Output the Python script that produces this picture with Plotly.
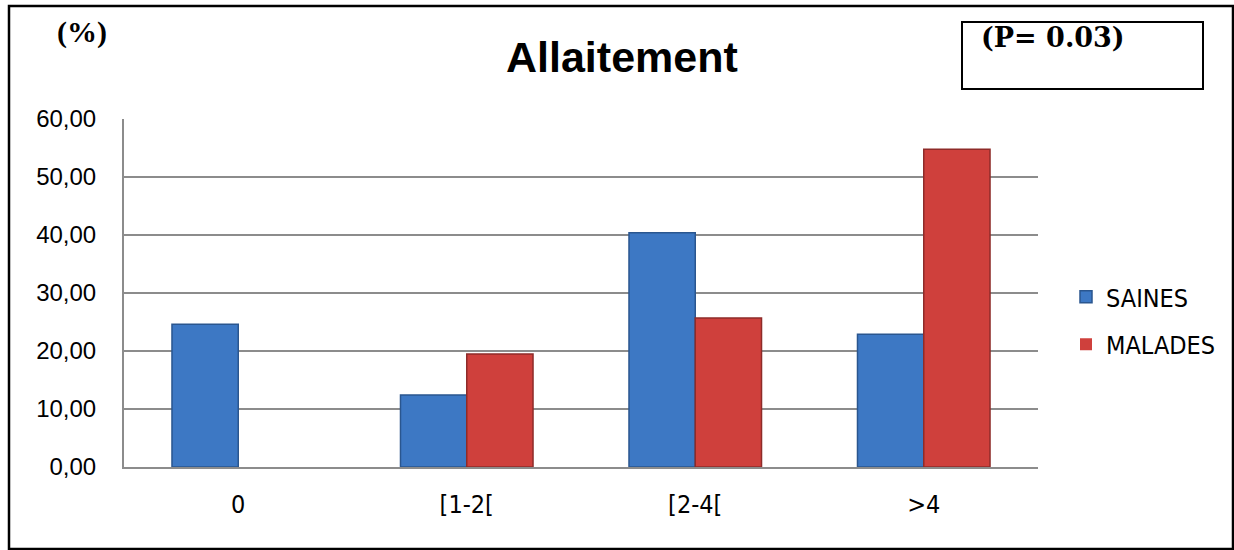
import plotly.graph_objects as go

categories = ["0", "[1-2[", "[2-4[", ">4"]
saines = [24.6, 12.4, 40.4, 22.9]
malades = [0.0, 19.5, 25.7, 54.8]
series_names = ["SAINES", "MALADES"]
y_ticks = [0, 10, 20, 30, 40, 50, 60]

W, H = 1234, 550
L, R, T, B = 124, 1038, 119, 467


def px(x):
    return (x - L) / (R - L)


def py(y):
    return (B - y) / (B - T)


NARROW = "DejaVu Sans Condensed, Liberation Sans, Arial, sans-serif"


def outline(vals, w):
    return [w if v > 0 else 0 for v in vals]


fig = go.Figure()
fig.add_trace(go.Bar(
    x=categories, y=saines, name=series_names[0], legendgroup="a",
    marker=dict(color="#3d78c4", line=dict(color="#2a568f", width=outline(saines, 1.5))),
))
fig.add_trace(go.Bar(
    x=categories, y=malades, name=series_names[1], legendgroup="b",
    marker=dict(color="#cf403c", line=dict(color="#8e2b29", width=outline(malades, 1.5))),
))

fig.update_layout(
    width=W, height=H, autosize=False,
    margin=dict(l=L, r=W - R, t=T, b=H - B, autoexpand=False),
    paper_bgcolor="white", plot_bgcolor="white",
    separators=", ",
    barmode="group", bargap=0.42, bargroupgap=0.0,
    showlegend=True,
    legend=dict(
        x=px(1066), y=py(274), xanchor="left", yanchor="top",
        font=dict(family=NARROW, size=25, color="black"),
        tracegroupgap=12, bgcolor="rgba(0,0,0,0)", itemwidth=30,
    ),
    xaxis=dict(
        showgrid=False, showline=True, linecolor="#8c8c8c", linewidth=2,
        ticks="", tickfont=dict(family=NARROW, size=25, color="black"),
        ticklabelstandoff=14,
    ),
    yaxis=dict(
        range=[0, 60], tickvals=y_ticks, tickformat=".2f",
        showgrid=True, gridcolor="#8c8c8c", gridwidth=2,
        showline=True, linecolor="#8c8c8c", linewidth=2,
        ticks="", zeroline=False,
        tickfont=dict(family="Liberation Sans, Arial, sans-serif", size=24, color="black"),
        ticklabelstandoff=21,
    ),
    annotations=[
        dict(text="<b>(%)</b>", x=px(82), y=py(32), xref="paper", yref="paper",
             showarrow=False, xanchor="center", yanchor="middle",
             font=dict(family="Liberation Serif, Times New Roman, serif", size=30, color="black")),
        dict(text="<b>Allaitement</b>", x=px(622), y=py(57), xref="paper", yref="paper",
             showarrow=False, xanchor="center", yanchor="middle",
             font=dict(family="Liberation Sans, Arial, sans-serif", size=43, color="black")),
        dict(text="<b>(P= 0.03)</b>", x=px(979), y=py(38), xref="paper", yref="paper",
             showarrow=False, xanchor="left", yanchor="middle",
             font=dict(family="DejaVu Serif, serif", size=27, color="black")),
    ],
    shapes=[
        dict(type="rect", xref="paper", yref="paper",
             x0=px(9), x1=px(1233), y0=py(549), y1=py(6),
             line=dict(color="black", width=2.5), fillcolor="rgba(0,0,0,0)", layer="below"),
        dict(type="rect", xref="paper", yref="paper",
             x0=px(962), x1=px(1203), y0=py(89), y1=py(22),
             line=dict(color="black", width=2), fillcolor="rgba(0,0,0,0)"),
    ],
)

fig.write_html("out.html")
